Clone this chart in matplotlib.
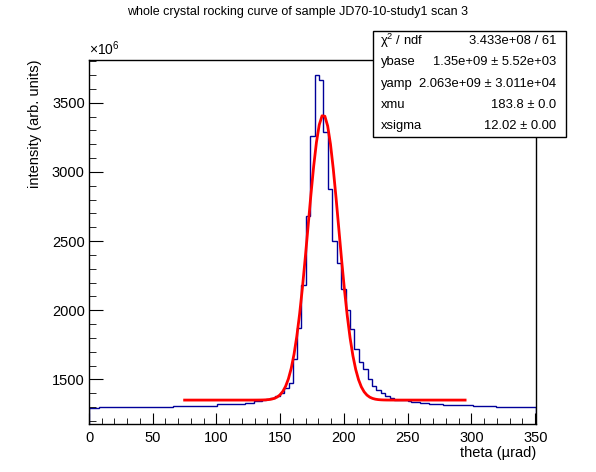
import numpy as np
import matplotlib
matplotlib.use("Agg")
import matplotlib.pyplot as plt
from matplotlib.patches import Rectangle

# histogram (bin edges in theta, contents in units of 1e6)
bin_edges = [0, 7.8, 65.8, 100.5, 122.7, 129.2, 135.7, 138.6, 142.3, 145.7,
             149.6, 152.9, 156.6, 159.8, 163.1, 166.2, 170.2, 173.1, 177.3,
             180.4, 183.5, 187.4, 190.8, 194.4, 197.9, 201.8, 204.4, 207.7,
             211.7, 215.3, 218.7, 222.1, 225.3, 228.7, 232.3, 235.7, 239.6,
             250.1, 252.7, 260.0, 267.0, 277.5, 301.0, 319.3, 350.6]
bin_values = [1290, 1298, 1307, 1319, 1331, 1340, 1350, 1356, 1363, 1382,
              1399, 1435, 1475, 1645, 1868, 2185, 2678, 3262, 3704, 3668,
              3292, 2880, 2499, 2338, 2150, 2001, 1861, 1717, 1627, 1572,
              1500, 1452, 1423, 1399, 1379, 1363, 1350, 1343, 1334, 1327,
              1319, 1312, 1305, 1298]

# fit results shown in the stats box
ybase = 1.35e9
yamp = 2.063e9
xmu = 183.8
xsigma = 12.02
fit_range = (75.0, 295.0)

stat_names = ["\u03c7$^{2}$ / ndf", "ybase", "yamp", "xmu", "xsigma"]
stat_texts = ["3.433e+08 / 61", "1.35e+09 \u00b1 5.52e+03",
              "2.063e+09 \u00b1 3.011e+04", "183.8 \u00b1 0.0", "12.02 \u00b1 0.00"]

plt.rcParams["font.family"] = ["Liberation Sans", "DejaVu Sans"]
plt.rcParams["mathtext.fontset"] = "custom"
plt.rcParams["mathtext.rm"] = "Liberation Sans"
plt.rcParams["mathtext.it"] = "Liberation Sans"

W, H = 596, 472
fig = plt.figure(figsize=(W / 100, H / 100), dpi=100)
ax = fig.add_axes([89 / W, 1 - 424 / H, (536 - 89) / W, (424 - 59.5) / H])

ax.stairs(bin_values, bin_edges, color="#000099", lw=1.0)

xf = np.linspace(fit_range[0], fit_range[1], 101)
yf = (ybase + yamp * np.exp(-0.5 * ((xf - xmu) / xsigma) ** 2)) / 1e6
ax.plot(xf, yf, color="red", lw=2.0)

ax.set_xlim(0, 350.6)
ax.set_ylim(1177, 3813)
ax.set_xticks(np.arange(0, 351, 50))
ax.set_xticks(np.arange(0, 351, 10), minor=True)
ax.set_yticks(np.arange(1500, 3600, 500))
ax.set_yticks(np.arange(1200, 3801, 100), minor=True)
ax.tick_params(which="both", direction="in", top=False, right=False,
               labelsize=10.5, colors="black")
ax.tick_params(axis="x", which="major", length=8, pad=5)
ax.tick_params(axis="x", which="minor", length=4)
ax.tick_params(axis="y", which="major", length=10, pad=3)
ax.tick_params(axis="y", which="minor", length=5)
for s in ax.spines.values():
    s.set_linewidth(1.0)

ax.set_xlabel("theta (\u00b5rad)", loc="right", fontsize=10.5, labelpad=1)
ax.set_ylabel("intensity (arb. units)", loc="top", fontsize=10.5, labelpad=7)
ax.text(0.0, 1.003, r"$\times10^{6}$", transform=ax.transAxes,
        fontsize=10, ha="left", va="bottom")

fig.text(0.5, 1 - 12 / H, "whole crystal rocking curve of sample JD70-10-study1 scan 3",
         ha="center", va="center", fontsize=9)

# stats box
bx0, bx1, by0, by1 = 372.5, 566, 30.5, 137
fig.patches.append(Rectangle((bx0 / W, 1 - by1 / H), (bx1 - bx0) / W, (by1 - by0) / H,
                             transform=fig.transFigure, facecolor="white",
                             edgecolor="black", lw=1.0, zorder=5))
row_h = (by1 - by0) / len(stat_names)
for i, (name, val) in enumerate(zip(stat_names, stat_texts)):
    yc = by0 + row_h * (i + 0.5)
    fig.text((bx0 + 8) / W, 1 - yc / H, name, ha="left", va="center",
             fontsize=9.4, zorder=6)
    fig.text((bx1 - 10) / W, 1 - yc / H, val, ha="right", va="center",
             fontsize=9.4, zorder=6)

fig.savefig("out.png", dpi=100)
